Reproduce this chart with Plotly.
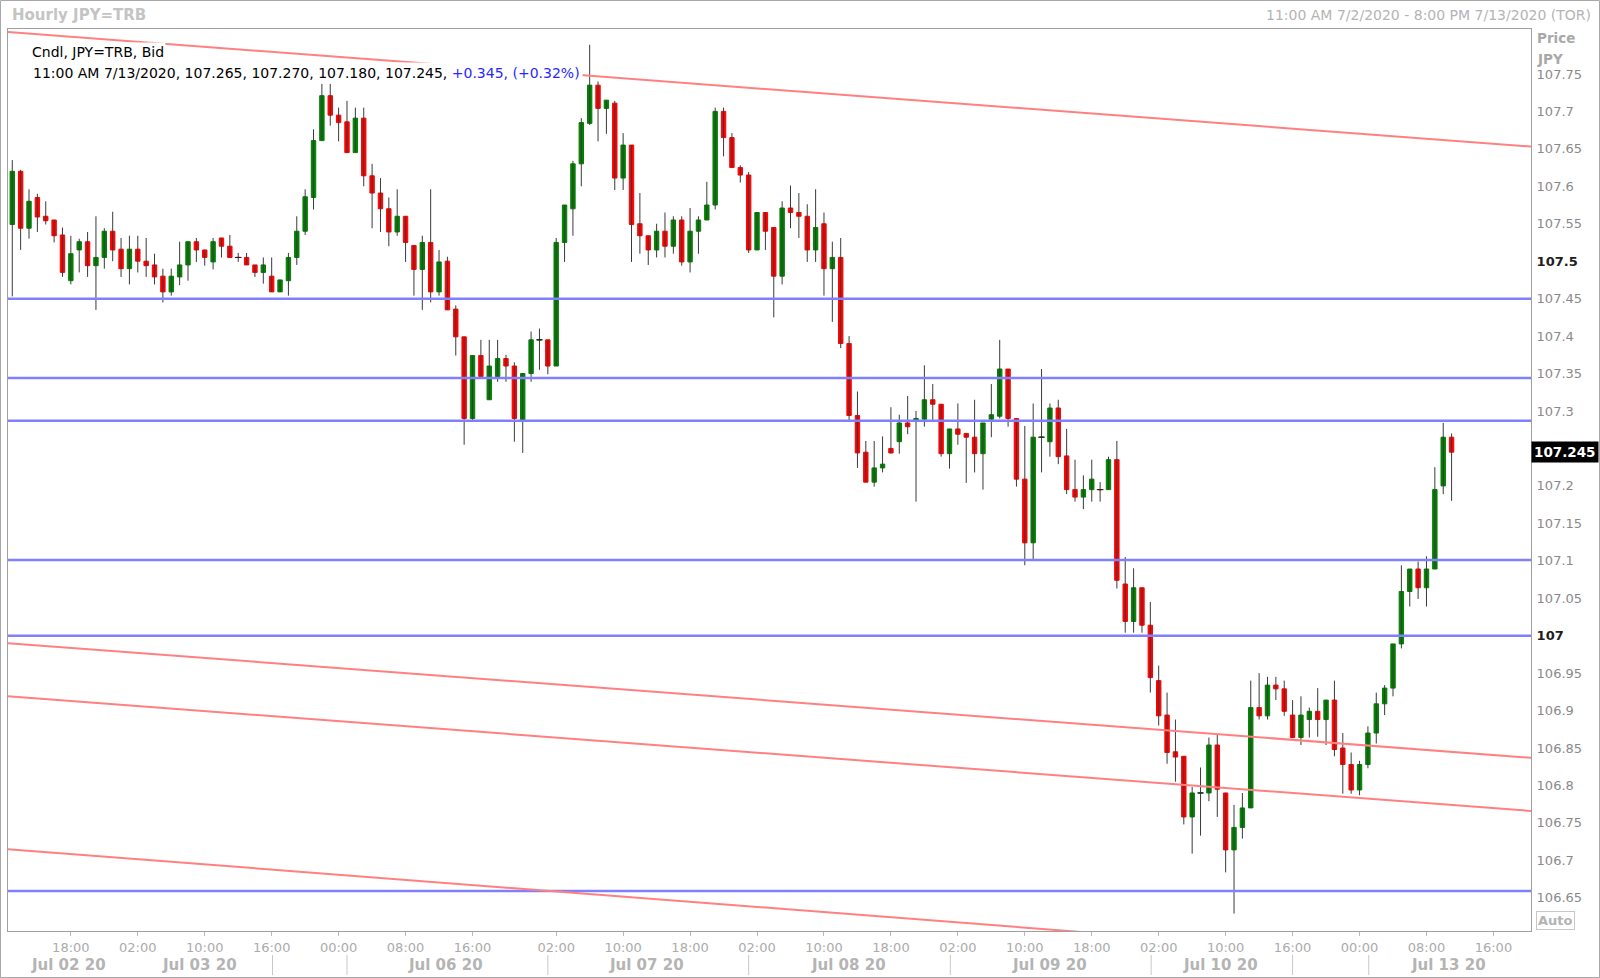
import numpy as np
import plotly.graph_objects as go

# ---------------- data (hourly JPY=TRB bid candles) ----------------
open_ = [107.549, 107.620, 107.544, 107.585, 107.560, 107.555, 107.535, 107.474, 107.515, 107.526,
         107.494, 107.505, 107.540, 107.516, 107.490, 107.516, 107.500, 107.495, 107.480, 107.459,
         107.479, 107.495, 107.526, 107.515, 107.499, 107.531, 107.520, 107.505, 107.505, 107.495,
         107.485, 107.480, 107.459, 107.474, 107.505, 107.540, 107.585, 107.661, 107.721, 107.695,
         107.686, 107.645, 107.691, 107.614, 107.591, 107.570, 107.539, 107.560, 107.521, 107.489,
         107.525, 107.459, 107.500, 107.436, 107.399, 107.290, 107.374, 107.315, 107.346, 107.370,
         107.360, 107.288, 107.350, 107.395, 107.395, 107.360, 107.525, 107.570, 107.630, 107.684,
         107.735, 107.704, 107.711, 107.611, 107.655, 107.550, 107.534, 107.515, 107.540, 107.520,
         107.555, 107.499, 107.540, 107.555, 107.575, 107.700, 107.665, 107.625, 107.615, 107.515,
         107.565, 107.545, 107.480, 107.571, 107.565, 107.560, 107.515, 107.550, 107.490, 107.505,
         107.390, 107.294, 107.245, 107.205, 107.224, 107.250, 107.259, 107.284, 107.288, 107.289,
         107.315, 107.309, 107.243, 107.276, 107.270, 107.265, 107.243, 107.289, 107.293, 107.356,
         107.290, 107.209, 107.124, 107.265, 107.259, 107.304, 107.240, 107.195, 107.185, 107.195,
         107.195, 107.195, 107.235, 107.069, 107.019, 107.064, 107.014, 106.940, 106.894, 106.845,
         106.839, 106.758, 106.790, 106.790, 106.854, 106.790, 106.714, 106.744, 106.770, 106.904,
         106.893, 106.934, 106.929, 106.894, 106.864, 106.888, 106.899, 106.888, 106.914, 106.850,
         106.828, 106.794, 106.828, 106.870, 106.909, 106.930, 106.989, 107.059, 107.089, 107.064,
         107.089, 107.200, 107.265]
high = [107.635, 107.622, 107.596, 107.590, 107.580, 107.555, 107.545, 107.534, 107.530, 107.539,
        107.560, 107.544, 107.566, 107.531, 107.534, 107.534, 107.531, 107.510, 107.490, 107.490,
        107.526, 107.526, 107.531, 107.515, 107.531, 107.531, 107.535, 107.511, 107.511, 107.495,
        107.505, 107.505, 107.475, 107.511, 107.560, 107.596, 107.676, 107.737, 107.737, 107.705,
        107.714, 107.705, 107.705, 107.630, 107.611, 107.585, 107.596, 107.560, 107.521, 107.534,
        107.596, 107.515, 107.506, 107.441, 107.399, 107.374, 107.395, 107.395, 107.395, 107.375,
        107.365, 107.350, 107.406, 107.410, 107.395, 107.531, 107.575, 107.634, 107.691, 107.789,
        107.740, 107.715, 107.714, 107.671, 107.655, 107.591, 107.534, 107.550, 107.565, 107.560,
        107.560, 107.571, 107.560, 107.606, 107.705, 107.705, 107.671, 107.628, 107.619, 107.565,
        107.565, 107.545, 107.580, 107.601, 107.591, 107.576, 107.596, 107.565, 107.526, 107.531,
        107.400, 107.326, 107.260, 107.260, 107.266, 107.305, 107.295, 107.320, 107.300, 107.361,
        107.336, 107.309, 107.276, 107.310, 107.270, 107.315, 107.284, 107.336, 107.395, 107.356,
        107.290, 107.280, 107.310, 107.356, 107.310, 107.315, 107.276, 107.235, 107.214, 107.235,
        107.205, 107.239, 107.260, 107.105, 107.090, 107.064, 107.045, 106.960, 106.924, 106.888,
        106.839, 106.798, 106.824, 106.864, 106.868, 106.790, 106.774, 106.790, 106.940, 106.950,
        106.945, 106.945, 106.940, 106.914, 106.919, 106.904, 106.930, 106.914, 106.940, 106.870,
        106.844, 106.833, 106.879, 106.924, 106.934, 106.989, 107.094, 107.089, 107.099, 107.106,
        107.225, 107.284, 107.270]
low = [107.453, 107.515, 107.530, 107.539, 107.549, 107.525, 107.479, 107.469, 107.485, 107.479,
       107.435, 107.490, 107.500, 107.479, 107.469, 107.485, 107.479, 107.469, 107.445, 107.454,
       107.468, 107.474, 107.499, 107.494, 107.489, 107.505, 107.505, 107.499, 107.495, 107.479,
       107.470, 107.459, 107.459, 107.454, 107.495, 107.535, 107.569, 107.661, 107.681, 107.660,
       107.645, 107.645, 107.600, 107.544, 107.539, 107.520, 107.534, 107.499, 107.454, 107.435,
       107.445, 107.454, 107.435, 107.374, 107.255, 107.288, 107.346, 107.315, 107.339, 107.339,
       107.259, 107.244, 107.339, 107.355, 107.349, 107.360, 107.499, 107.534, 107.600, 107.682,
       107.660, 107.670, 107.595, 107.595, 107.499, 107.510, 107.495, 107.505, 107.505, 107.510,
       107.494, 107.485, 107.510, 107.555, 107.569, 107.640, 107.625, 107.605, 107.511, 107.515,
       107.515, 107.425, 107.469, 107.544, 107.531, 107.499, 107.499, 107.454, 107.419, 107.384,
       107.288, 107.224, 107.205, 107.199, 107.218, 107.243, 107.243, 107.269, 107.179, 107.279,
       107.288, 107.239, 107.223, 107.255, 107.204, 107.218, 107.195, 107.265, 107.290, 107.279,
       107.199, 107.094, 107.102, 107.218, 107.239, 107.229, 107.189, 107.179, 107.169, 107.179,
       107.179, 107.195, 107.063, 107.004, 107.004, 107.004, 106.924, 106.880, 106.829, 106.805,
       106.748, 106.709, 106.733, 106.779, 106.758, 106.684, 106.629, 106.729, 106.770, 106.888,
       106.888, 106.914, 106.893, 106.864, 106.854, 106.864, 106.865, 106.854, 106.839, 106.789,
       106.789, 106.787, 106.823, 106.856, 106.894, 106.919, 106.983, 107.039, 107.049, 107.039,
       107.089, 107.189, 107.180]
close = [107.620, 107.544, 107.580, 107.559, 107.554, 107.534, 107.485, 107.510, 107.526, 107.494,
         107.505, 107.540, 107.515, 107.490, 107.516, 107.500, 107.494, 107.479, 107.459, 107.480,
         107.495, 107.526, 107.515, 107.505, 107.526, 107.520, 107.505, 107.505, 107.495, 107.485,
         107.495, 107.459, 107.475, 107.505, 107.540, 107.586, 107.661, 107.721, 107.695, 107.685,
         107.645, 107.691, 107.614, 107.591, 107.570, 107.539, 107.560, 107.525, 107.489, 107.525,
         107.459, 107.499, 107.435, 107.399, 107.290, 107.374, 107.346, 107.360, 107.370, 107.360,
         107.290, 107.350, 107.395, 107.395, 107.360, 107.525, 107.575, 107.630, 107.685, 107.735,
         107.704, 107.715, 107.611, 107.655, 107.549, 107.534, 107.515, 107.540, 107.520, 107.555,
         107.499, 107.540, 107.555, 107.575, 107.700, 107.665, 107.625, 107.615, 107.515, 107.565,
         107.540, 107.480, 107.571, 107.565, 107.560, 107.515, 107.545, 107.490, 107.505, 107.390,
         107.294, 107.244, 107.205, 107.224, 107.229, 107.244, 107.284, 107.279, 107.290, 107.315,
         107.309, 107.243, 107.276, 107.269, 107.265, 107.243, 107.284, 107.295, 107.356, 107.290,
         107.209, 107.124, 107.265, 107.265, 107.304, 107.239, 107.195, 107.185, 107.195, 107.209,
         107.195, 107.235, 107.074, 107.019, 107.064, 107.014, 106.944, 106.893, 106.844, 106.838,
         106.758, 106.790, 106.790, 106.854, 106.795, 106.714, 106.744, 106.770, 106.904, 106.893,
         106.934, 106.929, 106.899, 106.864, 106.894, 106.899, 106.888, 106.914, 106.848, 106.828,
         106.794, 106.828, 106.870, 106.909, 106.930, 106.989, 107.059, 107.089, 107.064, 107.089,
         107.195, 107.265, 107.245]

bars = list(range(len(open_)))          # one slot per hourly bar (weekend gaps removed)

# time tick labels (bar index of each label)
x_tick_vals = [7, 15, 23, 31, 39, 47, 55, 65, 73, 81, 89, 97, 105, 113, 121, 129, 137, 145, 153, 161, 169, 177]
x_tick_text = ["18:00", "02:00", "10:00", "16:00", "00:00", "08:00", "16:00", "02:00", "10:00", "18:00",
               "02:00", "10:00", "18:00", "02:00", "10:00", "18:00", "02:00", "10:00", "16:00", "00:00",
               "08:00", "16:00"]
# date row
date_labels = ["Jul 02 20", "Jul 03 20", "Jul 06 20", "Jul 07 20", "Jul 08 20", "Jul 09 20", "Jul 10 20", "Jul 13 20"]
date_label_pos = [6.7, 22.4, 51.8, 75.8, 99.9, 123.9, 144.4, 171.6]
day_breaks = [31.1, 40.0, 64.0, 88.0, 112.1, 136.1, 153.0, 162.1]

# price axis (107.25 sits under the last-price box, so it is not shown)
y_tick_vals = [106.65, 106.7, 106.75, 106.8, 106.85, 106.9, 106.95, 107.0, 107.05, 107.1, 107.15, 107.2,
               107.3, 107.35, 107.4, 107.45, 107.5, 107.55, 107.6, 107.65, 107.7, 107.75]
y_tick_text = ["106.65", "106.7", "106.75", "106.8", "106.85", "106.9", "106.95", "107", "107.05", "107.1",
               "107.15", "107.2", "107.3", "107.35", "107.4", "107.45", "107.5", "107.55", "107.6",
               "107.65", "107.7", "107.75"]
y_tick_bold = ["107", "107.5"]

# drawn studies
h_levels = [107.45, 107.344, 107.287, 107.101, 107.0, 106.659]
trend_x = [-0.51, 181.49]
trend_lines = [[107.806, 107.653], [106.990, 106.837], [106.919, 106.766], [106.715, 106.558]]

x_range = [-0.51, 181.49]
y_range = [106.6057, 107.810]

change_text = "+0.345, (+0.32%)"

# ---------------- figure ----------------
FONT = "DejaVu Sans"
W, H = 1600, 978
ML, MR, MT, MB = 8, 69, 29, 47
PW, PH = W - ML - MR, H - MT - MB

def px_x(px):
    return (px - ML) / PW

def px_y(py):
    return 1 - (py - MT) / PH

fig = go.Figure()

# wicks
wx, wy = [], []
for i in bars:
    wx += [i, i, None]
    wy += [low[i], high[i], None]
fig.add_trace(go.Scatter(x=wx, y=wy, mode="lines", line=dict(color="#3a3a3a", width=1),
                         hoverinfo="skip", showlegend=False))

o = np.array(open_)
c = np.array(close)
fig.add_trace(go.Candlestick(
    x=bars, open=open_, close=close, high=np.maximum(o, c), low=np.minimum(o, c),
    increasing=dict(fillcolor="#008000", line=dict(color="#008000", width=1)),
    decreasing=dict(fillcolor="#ff0000", line=dict(color="#ff0000", width=1)),
    whiskerwidth=0, showlegend=False))

# dojis (open == close) drawn as black ticks
dx, dy = [], []
for i in bars:
    if abs(open_[i] - close[i]) < 1e-9:
        dx += [i - 0.4, i + 0.4, None]
        dy += [open_[i], open_[i], None]
fig.add_trace(go.Scatter(x=dx, y=dy, mode="lines", line=dict(color="#202020", width=1),
                         hoverinfo="skip", showlegend=False))

shapes = []
for lv in h_levels:
    shapes.append(dict(type="line", xref="x", yref="y", x0=x_range[0], x1=x_range[1], y0=lv, y1=lv,
                       line=dict(color="rgb(128,128,255)", width=2.5)))
for y0, y1 in trend_lines:
    shapes.append(dict(type="line", xref="x", yref="y", x0=trend_x[0], x1=trend_x[1], y0=y0, y1=y1,
                       line=dict(color="rgb(255,128,128)", width=2)))
for b in day_breaks:
    shapes.append(dict(type="line", xref="x", yref="paper", x0=b, x1=b,
                       y0=px_y(955), y1=px_y(975), line=dict(color="#c8c8c8", width=1)))
# outer frame
shapes.append(dict(type="rect", xref="paper", yref="paper", x0=px_x(0.5), x1=px_x(1599.5),
                   y0=px_y(977.5), y1=px_y(0.5), line=dict(color="#a8a8a8", width=1)))
fig.update_layout(shapes=shapes)

ann = []
ann.append(dict(xref="paper", yref="paper", x=px_x(10), y=px_y(15), xanchor="left", yanchor="middle",
                text="<b>Hourly JPY=TRB</b>", showarrow=False, font=dict(family=FONT, size=15, color="#c4c4c4")))
ann.append(dict(xref="paper", yref="paper", x=px_x(1593), y=px_y(15), xanchor="right", yanchor="middle",
                text="11:00 AM 7/2/2020 - 8:00 PM 7/13/2020 (TOR)", showarrow=False,
                font=dict(family=FONT, size=14, color="#b4b4b4")))
ann.append(dict(xref="paper", yref="paper", x=px_x(30.4), y=px_y(52), xanchor="left", yanchor="middle",
                text="Cndl, JPY=TRB, Bid", showarrow=False, bgcolor="white", borderpad=1,
                font=dict(family=FONT, size=14, color="#000000")))
line2 = (f"11:00 AM 7/13/2020, {open_[-1]:.3f}, {high[-1]:.3f}, {low[-1]:.3f}, {close[-1]:.3f}, "
         f"<span style='color:#2828ff'>{change_text}</span>")
ann.append(dict(xref="paper", yref="paper", x=px_x(30.4), y=px_y(72.7), xanchor="left", yanchor="middle",
                text=line2, showarrow=False, bgcolor="white", borderpad=2,
                font=dict(family=FONT, size=14, color="#000000")))
ann.append(dict(xref="paper", yref="paper", x=px_x(1535), y=px_y(38), xanchor="left", yanchor="middle",
                text="<b>Price</b>", showarrow=False, font=dict(family=FONT, size=13.5, color="#a8a8a8")))
ann.append(dict(xref="paper", yref="paper", x=px_x(1535), y=px_y(59), xanchor="left", yanchor="middle",
                text="<b>JPY</b>", showarrow=False, font=dict(family=FONT, size=13.5, color="#a8a8a8")))
ann.append(dict(xref="paper", yref="y", x=1.0, y=close[-1], xanchor="left", yanchor="middle",
                text=f"<b>{close[-1]:.3f}</b>", showarrow=False, bgcolor="#000000", borderpad=2,
                font=dict(family=FONT, size=13.5, color="#ffffff")))
ann.append(dict(xref="paper", yref="paper", x=px_x(1536), y=px_y(920), xanchor="left", yanchor="middle",
                text="<b>Auto</b>", showarrow=False, bordercolor="#c8c8c8", borderwidth=1, borderpad=1,
                font=dict(family=FONT, size=13, color="#b4b4b4")))
for lab, pos in zip(date_labels, date_label_pos):
    ann.append(dict(xref="x", yref="paper", x=pos, y=px_y(965), xanchor="center", yanchor="middle",
                    text=f"<b>{lab}</b>", showarrow=False, font=dict(family=FONT, size=15, color="#b4b4b4")))
fig.update_layout(annotations=ann)

y_text = [f"<span style='color:#202020'><b>{t}</b></span>" if t in y_tick_bold else t for t in y_tick_text]

fig.update_layout(
    width=W, height=H,
    margin=dict(l=ML, r=MR, t=MT, b=MB, pad=0),
    paper_bgcolor="white", plot_bgcolor="white",
    boxgap=0.25,
    showlegend=False,
    font=dict(family=FONT),
    xaxis=dict(range=x_range, tickmode="array", tickvals=x_tick_vals, ticktext=x_tick_text,
               showgrid=False, zeroline=False, showline=True, linecolor="#a0a0a0", linewidth=1, mirror=True,
               ticks="outside", ticklen=4, tickcolor="#b8b8b8",
               tickfont=dict(family=FONT, size=13, color="#ababab"),
               rangeslider=dict(visible=False), fixedrange=True),
    yaxis=dict(range=y_range, side="right", tickmode="array", tickvals=y_tick_vals, ticktext=y_text,
               showgrid=False, zeroline=False, showline=True, linecolor="#a0a0a0", linewidth=1, mirror=True,
               ticks="", ticklabelstandoff=2,
               tickfont=dict(family=FONT, size=13, color="#8a8a8a"), fixedrange=True),
)

fig.write_html("out.html", config={"displayModeBar": False},
               post_script="document.body.style.margin='0px';document.body.style.overflow='hidden';")
